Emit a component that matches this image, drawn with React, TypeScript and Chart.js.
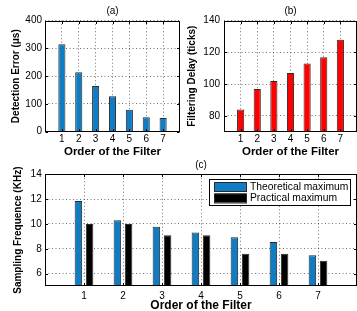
import React, { useEffect, useRef } from 'react';
import { Chart, registerables } from 'chart.js';

Chart.register(...registerables);

// ---------- data ----------
const categories = [1, 2, 3, 4, 5, 6, 7];
const detectionError = [315, 214, 165, 128, 79, 52, 49];
const filteringDelay = [84, 97, 102, 107, 113, 117, 128];
const theoreticalMax = [11.85, 10.3, 9.78, 9.32, 8.92, 8.54, 7.47];
const practicalMax = [10.0, 10.0, 9.08, 9.08, 7.6, 7.6, 7.03];

const xTicks = [1, 2, 3, 4, 5, 6, 7];
const yTicksA = [0, 100, 200, 300, 400];
const yTicksB = [80, 100, 120, 140];
const yTicksC = [6, 8, 10, 12, 14];

const seriesLabels = ['Theoretical maximum', 'Practical maximum'];

const FONT = "'Liberation Sans', Arial, Helvetica, sans-serif";
const BLUE = '#0f7cc4';
const RED = '#ff0000';
const BLACK = '#000000';
const EDGE = '#2a2a2a';
const DOT = 'rgba(0,0,0,0.55)';

// ---------- plugins ----------
const framePlugin = {
  id: 'frame',
  afterDraw(chart: any) {
    const { ctx, chartArea } = chart;
    const l = Math.round(chartArea.left) + 0.5;
    const r = Math.round(chartArea.right) - 0.5;
    const t = Math.round(chartArea.top) + 0.5;
    const b = Math.round(chartArea.bottom) - 0.5;
    ctx.save();
    ctx.strokeStyle = '#000';
    ctx.lineWidth = 1;
    ctx.setLineDash([]);
    ctx.strokeRect(l, t, r - l, b - t);
    const tl = 2.5;
    const xs = chart.scales.x;
    const ys = chart.scales.y;
    ctx.beginPath();
    xs.ticks.forEach((tk: any) => {
      const px = Math.round(xs.getPixelForValue(tk.value)) + 0.5;
      ctx.moveTo(px, b);
      ctx.lineTo(px, b - tl);
      ctx.moveTo(px, t);
      ctx.lineTo(px, t + tl);
    });
    ys.ticks.forEach((tk: any) => {
      const py = Math.round(ys.getPixelForValue(tk.value)) + 0.5;
      ctx.moveTo(l, py);
      ctx.lineTo(l + tl, py);
      ctx.moveTo(r, py);
      ctx.lineTo(r - tl, py);
    });
    ctx.stroke();
    ctx.restore();
  },
};

const boxLegendPlugin = {
  id: 'boxLegend',
  afterDraw(chart: any, _args: any, opts: any) {
    if (!opts || !opts.show) return;
    const { ctx } = chart;
    const { x, y, w, h, swW, swH, rowGap, textX, fontSize } = opts;
    ctx.save();
    ctx.fillStyle = '#fff';
    ctx.fillRect(x, y, w, h);
    ctx.strokeStyle = '#000';
    ctx.lineWidth = 1;
    ctx.strokeRect(x + 0.5, y + 0.5, w, h);
    ctx.font = `${fontSize}px ${FONT}`;
    ctx.textBaseline = 'middle';
    ctx.textAlign = 'left';
    chart.data.datasets.forEach((ds: any, i: number) => {
      const sy = y + 3 + i * rowGap;
      ctx.fillStyle = ds.backgroundColor;
      ctx.fillRect(x + 5.5, sy, swW, swH);
      ctx.strokeStyle = EDGE;
      ctx.strokeRect(x + 5.5, sy + 0.5, swW, swH);
      ctx.fillStyle = '#000';
      ctx.fillText(ds.label, textX, sy + swH / 2 + 0.5);
    });
    ctx.restore();
  },
};

// ---------- config builder ----------
type PanelOpts = {
  datasets: any[];
  yMin: number;
  yMax: number;
  yTicks: number[];
  title: string;
  titlePad: { top: number; bottom: number };
  xTitle: string;
  xTitleSize: number;
  xTitlePadBottom: number;
  xAxisHeight: number;
  xTickPad: number;
  yTitle: string;
  yTitlePadTop: number;
  yAxisWidth: number;
  yTickPad: number;
  padRight: number;
  legend?: any;
};

function makeConfig(o: PanelOpts): any {
  return {
    type: 'bar',
    data: { datasets: o.datasets },
    plugins: [framePlugin, boxLegendPlugin],
    options: {
      animation: false,
      responsive: false,
      devicePixelRatio: 1,
      layout: { padding: { left: 0, right: o.padRight, top: 0, bottom: 0 } },
      plugins: {
        legend: { display: false },
        tooltip: { enabled: false },
        title: {
          display: true,
          text: o.title,
          fullSize: false,
          color: '#000',
          font: { family: FONT, size: 10, weight: 'normal' },
          padding: o.titlePad,
        },
        boxLegend: o.legend || { show: false },
      },
      scales: {
        x: {
          type: 'linear',
          min: 0,
          max: 8,
          offset: false,
          afterBuildTicks: (s: any) => {
            s.ticks = xTicks.map((v) => ({ value: v }));
          },
          afterFit: (s: any) => {
            s.height = o.xAxisHeight;
          },
          ticks: {
            autoSkip: false,
            maxRotation: 0,
            padding: o.xTickPad,
            color: '#000',
            font: { family: FONT, size: 10 },
          },
          grid: { color: DOT, lineWidth: 1, drawTicks: false, offset: false },
          border: { display: false, dash: [1, 2.5] },
          title: {
            display: true,
            text: o.xTitle,
            color: '#000',
            font: { family: FONT, size: o.xTitleSize, weight: 'bold' },
            padding: { top: 0, bottom: o.xTitlePadBottom },
          },
        },
        y: {
          type: 'linear',
          min: o.yMin,
          max: o.yMax,
          afterBuildTicks: (s: any) => {
            s.ticks = o.yTicks.map((v) => ({ value: v }));
          },
          afterFit: (s: any) => {
            s.width = o.yAxisWidth;
          },
          ticks: {
            padding: o.yTickPad,
            color: '#000',
            font: { family: FONT, size: 10 },
          },
          grid: { color: DOT, lineWidth: 1, drawTicks: false },
          border: { display: false, dash: [1, 2.5] },
          title: {
            display: true,
            text: o.yTitle,
            color: '#000',
            font: { family: FONT, size: 10, weight: 'bold' },
            padding: { top: o.yTitlePadTop, bottom: 0 },
          },
        },
      },
    },
  };
}

function toPoints(vals: number[]) {
  return categories.map((c, i) => ({ x: c, y: vals[i] }));
}

function Panel(props: { left: number; top: number; width: number; height: number; make: () => any }) {
  const ref = useRef<HTMLCanvasElement>(null);
  useEffect(() => {
    const chart = new Chart(ref.current as HTMLCanvasElement, props.make());
    return () => chart.destroy();
  }, []);
  return (
    <canvas
      ref={ref}
      width={props.width}
      height={props.height}
      style={{ position: 'absolute', left: props.left, top: props.top, width: props.width, height: props.height }}
    />
  );
}

export default function App() {
  const makeA = () =>
    makeConfig({
      datasets: [
        {
          label: 'Detection Error',
          data: toPoints(detectionError),
          backgroundColor: BLUE,
          borderColor: EDGE,
          borderWidth: 1,
          categoryPercentage: 1,
          barPercentage: 0.42,
        },
      ],
      yMin: 0,
      yMax: 400,
      yTicks: yTicksA,
      title: '(a)',
      titlePad: { top: 5, bottom: 3.7 },
      xTitle: 'Order of the Filter',
      xTitleSize: 11.5,
      xTitlePadBottom: 1.1,
      xAxisHeight: 28.3,
      xTickPad: 2,
      yTitle: 'Detection Error (\u03bcs)',
      yTitlePadTop: 10.5,
      yAxisWidth: 45,
      yTickPad: 3,
      padRight: 10,
    });

  const makeB = () =>
    makeConfig({
      datasets: [
        {
          label: 'Filtering Delay',
          data: toPoints(filteringDelay),
          backgroundColor: RED,
          borderColor: EDGE,
          borderWidth: 1,
          categoryPercentage: 1,
          barPercentage: 0.43,
        },
      ],
      yMin: 70,
      yMax: 140,
      yTicks: yTicksB,
      title: '(b)',
      titlePad: { top: 5, bottom: 3.7 },
      xTitle: 'Order of the Filter',
      xTitleSize: 11.5,
      xTitlePadBottom: 1.1,
      xAxisHeight: 28.3,
      xTickPad: 2,
      yTitle: 'Filtering Delay (ticks)',
      yTitlePadTop: 6.3,
      yAxisWidth: 44,
      yTickPad: 4,
      padRight: 3,
    });

  const makeC = () =>
    makeConfig({
      datasets: [
        {
          label: seriesLabels[0],
          data: toPoints(theoreticalMax),
          backgroundColor: BLUE,
          borderColor: EDGE,
          borderWidth: 1,
          categoryPercentage: 0.574,
          barPercentage: 0.67,
        },
        {
          label: seriesLabels[1],
          data: toPoints(practicalMax),
          backgroundColor: BLACK,
          borderColor: EDGE,
          borderWidth: 1,
          categoryPercentage: 0.574,
          barPercentage: 0.67,
        },
      ],
      yMin: 5,
      yMax: 14,
      yTicks: yTicksC,
      title: '(c)',
      titlePad: { top: 4, bottom: 3.3 },
      xTitle: 'Order of the Filter',
      xTitleSize: 12,
      xTitlePadBottom: 2.1,
      xAxisHeight: 29,
      xTickPad: 4.5,
      yTitle: 'Sampling Frequence (KHz)',
      yTitlePadTop: 12,
      yAxisWidth: 45,
      yTickPad: 3.3,
      padRight: 3,
      legend: {
        show: true,
        x: 209,
        y: 24,
        w: 141,
        h: 26,
        swW: 32,
        swH: 9,
        rowGap: 11.5,
        textX: 250,
        fontSize: 10.3,
      },
    });

  return (
    <div
      style={{
        position: 'fixed',
        left: 0,
        top: 0,
        width: 357,
        height: 311,
        overflow: 'hidden',
        background: '#fff',
      }}
    >
      <Panel left={0} top={0} width={190} height={160} make={makeA} />
      <Panel left={180} top={0} width={180} height={160} make={makeB} />
      <Panel left={0} top={155} width={360} height={160} make={makeC} />
    </div>
  );
}
